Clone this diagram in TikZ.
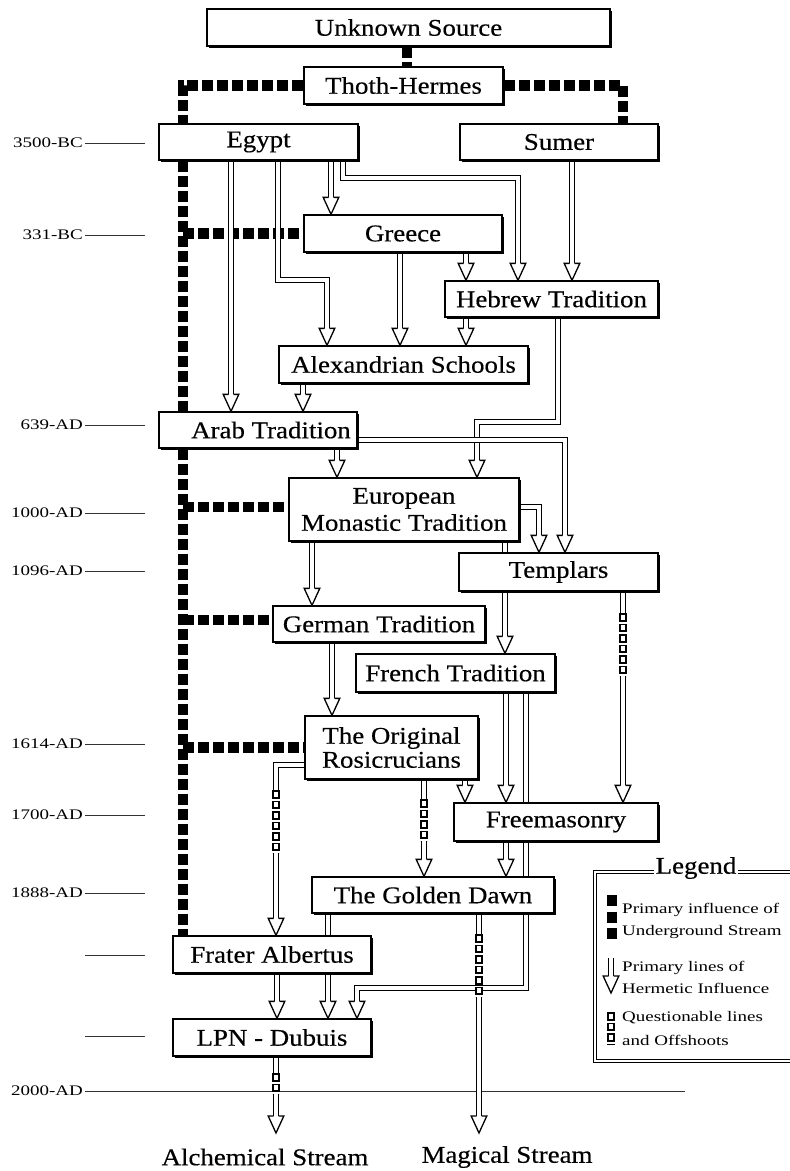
\documentclass[tikz,border=0pt]{standalone}
\usepackage{fontspec}
\setmainfont{Liberation Serif}
\newfontfamily\hbigfam[FakeStretch=1.12, FakeBold=0.4]{Liberation Serif}
\newfontfamily\hsmallfam[FakeStretch=1.3]{Liberation Serif}
\newcommand\hbig{\hbigfam\fontsize{24}{26}\selectfont}
\newcommand\hsmall{\hsmallfam\fontsize{14.6}{16}\selectfont}
\usetikzlibrary{shadows}
\pgfdeclarelayer{bg}
\pgfdeclarelayer{under}
\pgfdeclarelayer{conn}
\pgfsetlayers{bg,under,conn,main}
\tikzset{
  box/.style={draw=black, line width=1.3pt, fill=white, inner sep=0pt, align=center, font=\hbig,
    drop shadow={shadow xshift=2pt, shadow yshift=-2pt, fill=black, opacity=1}},
  pipe/.style={draw=black, line width=1.5pt, double=white, double distance=3.6pt, line join=miter},
  qline/.style={draw=black, line width=8pt, dash pattern=on 8.5pt off 2pt,
    postaction={draw=white, line width=4.8pt, dash pattern=on 5.3pt off 5.2pt, dash phase=8.9pt}},
  ug/.style={draw=black, line width=10.5pt, dash pattern=on 11pt off 4pt},
  tl/.style={font=\hsmall, inner sep=2pt, anchor=east},
  tline/.style={draw=black!80, line width=1pt},
  legtext/.style={font=\hsmall, inner sep=0pt, anchor=west},
  streamtext/.style={font=\hbig, inner sep=0pt},
  hhead/.pic={
    \fill[white] (-7.8,-17) -- (7.8,-17) -- (0,0) -- cycle;
    \draw[black, line width=1.3pt, line join=miter] (-2.5,-17) -- (-7.8,-17) -- (0,0) -- (7.8,-17) -- (2.5,-17);
  }
}
\begin{document}
\begin{tikzpicture}[x=1pt, y=-1pt]
\useasboundingbox (0,0) rectangle (790,1171);
\begin{pgfonlayer}{bg}
\fill[white] (0,0) rectangle (790,1171);
\end{pgfonlayer}

% ---------- boxes ----------
\node[box, minimum width=403pt, minimum height=37pt] (src) at (408.5,27.5) {Unknown Source};
\node[box, minimum width=199pt, minimum height=37pt] (thoth) at (403.5,85.5) {Thoth-Hermes};
\node[box, minimum width=199pt, minimum height=36pt] (egypt) at (258.5,142) {Egypt};
\node[box, minimum width=198pt, minimum height=36pt] (sumer) at (559,142) {Sumer};
\node[box, minimum width=198pt, minimum height=37pt] (greece) at (403,233.5) {Greece};
\node[box, minimum width=213pt, minimum height=36pt] (hebrew) at (551.5,299) {Hebrew Tradition};
\node[box, minimum width=249pt, minimum height=37pt] (alex) at (403.5,364.5) {Alexandrian Schools};
\node[box, minimum width=198pt, minimum height=36pt] (arab) at (258,430) {\hspace*{26pt}Arab Tradition};
\node[box, minimum width=230pt, minimum height=63pt] (euro) at (404,509.5) {European\\[1pt]Monastic Tradition};
\node[box, minimum width=199pt, minimum height=38pt] (templars) at (558.5,572) {Templars};
\node[box, minimum width=212pt, minimum height=36pt] (german) at (379,624) {German Tradition};
\node[box, minimum width=199pt, minimum height=38pt] (french) at (455.5,673) {French Tradition};
\node[box, minimum width=173pt, minimum height=63pt] (rosi) at (391.5,747.5) {The Original\\[-2pt]Rosicrucians};
\node[box, minimum width=204pt, minimum height=38pt] (freem) at (556,822) {Freemasonry};
\node[box, minimum width=242pt, minimum height=36pt] (gd) at (433,895) {The Golden Dawn};
\node[box, minimum width=198pt, minimum height=37pt] (frater) at (272,954.5) {Frater Albertus};
\node[box, minimum width=198pt, minimum height=37pt] (lpn) at (272,1037.5) {LPN - Dubuis};

\node[streamtext] (alch) at (265,1157) {Alchemical Stream};
\node[streamtext] (magic) at (507,1157) {Magical Stream};
\coordinate (alchtip) at (276,1133);
\coordinate (magictip) at (479,1133);

% ---------- timeline ----------
\begin{pgfonlayer}{under}
\node[tl] (t1) at (85,143) {3500-BC};
\node[tl] (t2) at (85,235) {331-BC};
\node[tl] (t3) at (85,425) {639-AD};
\node[tl] (t4) at (85,513) {1000-AD};
\node[tl] (t5) at (85,571) {1096-AD};
\node[tl] (t6) at (85,744) {1614-AD};
\node[tl] (t7) at (85,815) {1700-AD};
\node[tl] (t8) at (85,893) {1888-AD};
\node[tl] (t11) at (85,1091) {2000-AD};
\coordinate (t9) at (85,955);
\coordinate (t10) at (85,1036);
\foreach \t in {t1,t2,t3,t4,t5,t6,t7,t8}{
  \draw[tline] (\t.east) -- ++(60,0);
}
\draw[tline] (t9) -- ++(60,0);
\draw[tline] (t10) -- ++(60,0);
\draw[tline] (t11.east) -- (685,0 |- t11.east);

% ---------- underground stream ----------
\draw[ug] (407,0 |- src.south) -- (407,0 |- thoth.north);
\draw[ug] (thoth.west) -- (183,85.5) -- (183,0 |- egypt.north);
\draw[ug] (thoth.east) -- (623,85.5) -- (623,0 |- sumer.north);
\draw[ug] (183,0 |- egypt.south) -- (183,0 |- arab.north);
\draw[ug] (183,0 |- arab.south) -- (183,0 |- frater.north);
\draw[ug] (183,233.5) -- (greece.west);
\draw[ug] (183,507) -- (euro.west |- 0,507);
\draw[ug] (183,620) -- (german.west |- 0,620);
\draw[ug] (183,747.5) -- (rosi.west);
\end{pgfonlayer}

% ---------- hermetic lines ----------
\begin{pgfonlayer}{conn}
% Egypt
\draw[pipe, shorten >=10pt] (231,0 |- egypt.south) -- (231,0 |- arab.north);
\pic at (231,0 |- arab.north) {hhead};
\draw[pipe, shorten >=10pt] (278,0 |- egypt.south) -- (278,280) -- (327,280) -- (327,0 |- alex.north);
\pic at (327,0 |- alex.north) {hhead};
\draw[pipe, shorten >=10pt] (331,0 |- egypt.south) -- (331,0 |- greece.north);
\pic at (331,0 |- greece.north) {hhead};
\draw[pipe, shorten >=10pt] (343,0 |- egypt.south) -- (343,178) -- (518,178) -- (518,0 |- hebrew.north);
\pic at (518,0 |- hebrew.north) {hhead};
% Sumer
\draw[pipe, shorten >=10pt] (572,0 |- sumer.south) -- (572,0 |- hebrew.north);
\pic at (572,0 |- hebrew.north) {hhead};
% Greece
\draw[pipe, shorten >=10pt] (400,0 |- greece.south) -- (400,0 |- alex.north);
\pic at (400,0 |- alex.north) {hhead};
\draw[pipe, shorten >=10pt] (466,0 |- greece.south) -- (466,0 |- hebrew.north);
\pic at (466,0 |- hebrew.north) {hhead};
% Hebrew
\draw[pipe, shorten >=10pt] (466,0 |- hebrew.south) -- (466,0 |- alex.north);
\pic at (466,0 |- alex.north) {hhead};
\draw[pipe, shorten >=10pt] (558,0 |- hebrew.south) -- (558,422) -- (477,422) -- (477,0 |- euro.north);
\pic at (477,0 |- euro.north) {hhead};
% Alexandrian
\draw[pipe, shorten >=10pt] (303,0 |- alex.south) -- (303,0 |- arab.north);
\pic at (303,0 |- arab.north) {hhead};
% Arab
\draw[pipe, shorten >=10pt] (337,0 |- arab.south) -- (337,0 |- euro.north);
\pic at (337,0 |- euro.north) {hhead};
\draw[pipe, shorten >=10pt] (arab.east |- 0,440) -- (565,440) -- (565,0 |- templars.north);
\pic at (565,0 |- templars.north) {hhead};
% European
\draw[pipe, shorten >=10pt] (312,0 |- euro.south) -- (312,0 |- german.north);
\pic at (312,0 |- german.north) {hhead};
\draw[pipe, shorten >=10pt] (euro.east |- 0,507) -- (539,507) -- (539,0 |- templars.north);
\pic at (539,0 |- templars.north) {hhead};
\draw[pipe, shorten >=10pt] (505,0 |- euro.south) -- (505,0 |- french.north);
\pic at (505,0 |- french.north) {hhead};
% Templars (questionable)
\draw[pipe] (623,0 |- templars.south) -- (623,613);
\draw[qline] (623,613) -- (623,676);
\draw[pipe, shorten >=10pt] (623,676) -- (623,0 |- freem.north);
\pic at (623,0 |- freem.north) {hhead};
% German
\draw[pipe, shorten >=10pt] (332,0 |- german.south) -- (332,0 |- rosi.north);
\pic at (332,0 |- rosi.north) {hhead};
% French
\draw[pipe, shorten >=10pt] (506,0 |- french.south) -- (506,0 |- freem.north);
\pic at (506,0 |- freem.north) {hhead};
\draw[pipe, shorten >=10pt] (526,0 |- french.south) -- (526,988) -- (357,988) -- (357,0 |- lpn.north);
\pic at (357,0 |- lpn.north) {hhead};
% Rosicrucians
\draw[pipe] (rosi.west |- 0,765) -- (276,765) -- (276,790);
\draw[qline] (276,790) -- (276,853);
\draw[pipe, shorten >=10pt] (276,853) -- (276,0 |- frater.north);
\pic at (276,0 |- frater.north) {hhead};
\draw[pipe] (424,0 |- rosi.south) -- (424,799);
\draw[qline] (424,799) -- (424,841);
\draw[pipe, shorten >=10pt] (424,841) -- (424,0 |- gd.north);
\pic at (424,0 |- gd.north) {hhead};
\draw[pipe, shorten >=10pt] (465,0 |- rosi.south) -- (465,0 |- freem.north);
\pic at (465,0 |- freem.north) {hhead};
% Freemasonry
\draw[pipe, shorten >=10pt] (506,0 |- freem.south) -- (506,0 |- gd.north);
\pic at (506,0 |- gd.north) {hhead};
% Golden Dawn
\draw[pipe, shorten >=10pt] (328,0 |- gd.south) -- (328,0 |- lpn.north);
\pic at (328,0 |- lpn.north) {hhead};
\draw[pipe] (479,0 |- gd.south) -- (479,934);
\draw[qline] (479,934) -- (479,997);
\draw[pipe, shorten >=10pt] (479,997) -- (magictip);
\pic at (magictip) {hhead};
% Frater
\draw[pipe, shorten >=10pt] (277,0 |- frater.south) -- (277,0 |- lpn.north);
\pic at (277,0 |- lpn.north) {hhead};
% LPN
\draw[pipe] (276,0 |- lpn.south) -- (276,1073);
\draw[qline] (276,1073) -- (276,1094);
\draw[pipe, shorten >=10pt] (276,1094) -- (alchtip);
\pic at (alchtip) {hhead};
\end{pgfonlayer}

% ---------- legend ----------
\draw[line width=1pt, double=white, double distance=2pt] (800,871.5) -- (594.5,871.5) -- (594.5,1060.5) -- (800,1060.5);
\node[font=\hbig, fill=white, inner sep=2pt] (legend) at (696,868) {Legend};
\draw[ug, dash pattern=on 11pt off 5.5pt] (612,895) -- (612,940);
\node[legtext] (l1) at (622,910) {Primary influence of};
\node[legtext] (l2) at (622,932) {Underground Stream};
\draw[pipe, shorten >=10pt] (611,958) -- (611,993);
\pic at (611,993) {hhead};
\node[legtext] (l3) at (622,968) {Primary lines of};
\node[legtext] (l4) at (622,988) {Hermetic Influence};
\draw[qline] (611,1012) -- (611,1044);
\node[legtext] (l5) at (622,1018) {Questionable lines};
\node[legtext] (l6) at (622,1040) {and Offshoots};
\end{tikzpicture}
\end{document}
